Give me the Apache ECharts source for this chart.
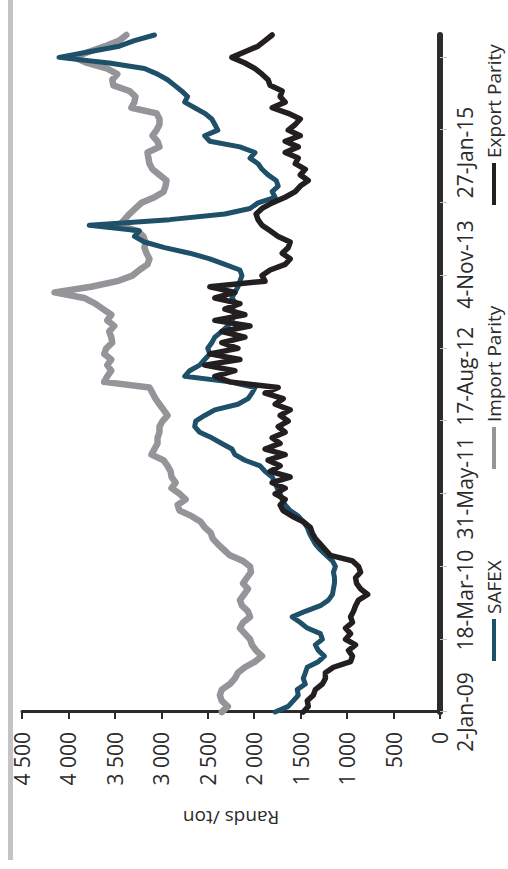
<!DOCTYPE html>
<html>
<head>
<meta charset="utf-8">
<script src="https://cdn.jsdelivr.net/npm/echarts@6/dist/echarts.min.js"></script>
<style>
html,body{margin:0;padding:0;background:#fff;width:508px;height:869px;overflow:hidden;}
#chart{position:absolute;left:0;top:0;width:869px;height:508px;transform-origin:0 0;transform:translate(0,869px) rotate(-90deg);}
</style>
</head>
<body>
<div id="chart"></div>
<script>
// Tick labels of the date axis (one every 20 observations)
var dateLabels = ['2-Jan-09', '18-Mar-10', '31-May-11', '17-Aug-12', '4-Nov-13', '27-Jan-15'];
var seriesNames = ['SAFEX', 'Import Parity', 'Export Parity'];

// Rands / ton, sampled evenly through time (2 Jan 2009 to early 2016)
var safex = [1775,1634,1580,1526,1537,1450,1472,1450,1429,1310,
  1245,1310,1342,1266,1288,1429,1504,1591,1450,1288,
  1201,1158,1147,1136,1136,1147,1126,1158,1223,1288,
  1342,1375,1407,1429,1472,1526,1613,1667,1699,1721,
  1753,1775,1807,1883,1937,2100,2208,2240,2349,2457,
  2587,2641,2630,2533,2424,2175,2067,2024,1991,2262,
  2749,2695,2587,2533,2478,2500,2457,2424,2349,2284,
  2240,2208,2240,2197,2240,2208,2175,2154,2132,2154,
  2316,2478,2695,2965,3182,3290,3236,3777,2911,2316,
  2045,1959,1775,1807,1742,1764,1851,1916,1959,2045,
  1991,2154,2478,2533,2392,2424,2457,2533,2641,2749,
  2717,2782,2857,2933,3041,3182,3561,4102,3777,3453,
  3290,3074];

var importParity = [2349,2284,2349,2370,2349,2262,2208,2175,2100,1991,
  1916,1981,2024,2045,2100,2154,2121,2045,2067,2132,
  2154,2110,2067,2121,2078,2035,2045,2121,2262,2327,
  2392,2446,2468,2533,2576,2673,2803,2825,2738,2803,
  2890,2846,2890,2900,2933,2976,3106,3074,3041,3041,
  3020,3020,2987,2933,2976,3020,3063,3095,3128,3615,
  3582,3539,3582,3539,3615,3593,3528,3539,3561,3507,
  3582,3539,3626,3712,3831,4150,3756,3474,3312,3236,
  3149,3128,3160,3182,3171,3193,3258,3452,3398,3344,
  3279,3214,3074,2976,2955,2944,3020,3095,3128,3139,
  3149,3020,3041,3095,3052,3020,3020,3052,3323,3290,
  3279,3344,3517,3528,3474,3582,3799,3940,3777,3604,
  3453,3377];

var exportParity = [1472,1418,1429,1364,1342,1266,1234,1234,1147,963,
  942,985,909,1017,963,1017,942,963,931,909,
  877,779,855,898,909,855,877,942,1180,1234,
  1288,1342,1375,1396,1472,1591,1688,1721,1667,1775,
  1667,1807,1613,1829,1721,1851,1667,1883,1721,1807,
  1667,1742,1634,1721,1613,1775,1688,1883,1742,2262,
  2424,2208,2533,2154,2478,2175,2349,2100,2349,2045,
  2424,2100,2316,2154,2424,2208,2478,1883,1916,1829,
  1667,1613,1699,1634,1613,1742,1829,1916,1959,1980,
  1916,1807,1667,1558,1504,1418,1504,1450,1558,1526,
  1667,1526,1667,1504,1634,1558,1504,1634,1807,1667,
  1721,1699,1829,1851,1916,1991,2100,2240,2100,1959,
  1883,1807];

var categories = safex.map(function (_, i) { return String(i); });

var FONT = '"Open Sans", "Noto Sans", sans-serif';
var TXT = '#2b2b2b';
var chart = echarts.init(document.getElementById('chart'), null, {renderer: 'svg'});

function fmtVal(v) {
  if (v >= 1000) {
    var r = v % 1000;
    return Math.floor(v / 1000) + ' ' + (r < 10 ? '00' : r < 100 ? '0' : '') + r;
  }
  return String(v);
}

function legendFor(name, left) {
  return {
    data: [{name: name, icon: 'rect'}], left: left, top: 484, orient: 'horizontal',
    itemWidth: 42, itemHeight: 4, itemGap: 0,
    textStyle: {fontFamily: FONT, fontSize: 19, color: TXT, lineHeight: 20},
    padding: 0
  };
}

chart.setOption({
  animation: false,
  backgroundColor: '#fff',
  graphic: [{
    type: 'rect', shape: {x: 9, y: 8, width: 860, height: 5},
    style: {fill: '#c3c3c8'}, silent: true
  }],
  grid: {left: 157, right: 35, top: 22, bottom: 68, containLabel: false},
  legend: [legendFor('SAFEX', 208), legendFor('Import Parity', 400), legendFor('Export Parity', 664)],
  xAxis: {
    type: 'category', data: categories, boundaryGap: false,
    axisLine: {show: true, lineStyle: {color: '#2b2b2b', width: 6}},
    axisTick: {show: true, interval: 12, length: 7, lineStyle: {color: '#c0c0c0', width: 1}},
    axisLabel: {
      interval: 19, margin: 14, fontFamily: FONT, fontSize: 21, color: TXT,
      formatter: function (v, idx) { var k = idx / 20; return dateLabels[k] || ''; }
    },
    splitLine: {show: false}
  },
  yAxis: {
    type: 'value', min: 0, max: 4500, interval: 500,
    name: 'Rands /ton', nameLocation: 'middle', nameRotate: 90, nameGap: 96,
    nameTextStyle: {fontFamily: FONT, fontSize: 19, color: TXT},
    axisLine: {show: true, lineStyle: {color: '#2b2b2b', width: 3}},
    axisTick: {show: true, length: 7, lineStyle: {color: '#2b2b2b', width: 2}},
    axisLabel: {margin: 20, fontFamily: FONT, fontSize: 21, color: TXT, formatter: fmtVal},
    splitLine: {show: false}
  },
  series: [
    {name: 'Import Parity', type: 'line', data: importParity, symbol: 'none', z: 2,
      lineStyle: {color: '#939598', width: 6.5, cap: 'round', join: 'round'}, itemStyle: {color: '#939598'}},
    {name: 'SAFEX', type: 'line', data: safex, symbol: 'none', z: 3,
      lineStyle: {color: '#1f5069', width: 5, cap: 'round', join: 'round'}, itemStyle: {color: '#1f5069'}},
    {name: 'Export Parity', type: 'line', data: exportParity, symbol: 'none', z: 4,
      lineStyle: {color: '#231f20', width: 5.5, cap: 'round', join: 'round'}, itemStyle: {color: '#231f20'}}
  ]
});
</script>
</body>
</html>
